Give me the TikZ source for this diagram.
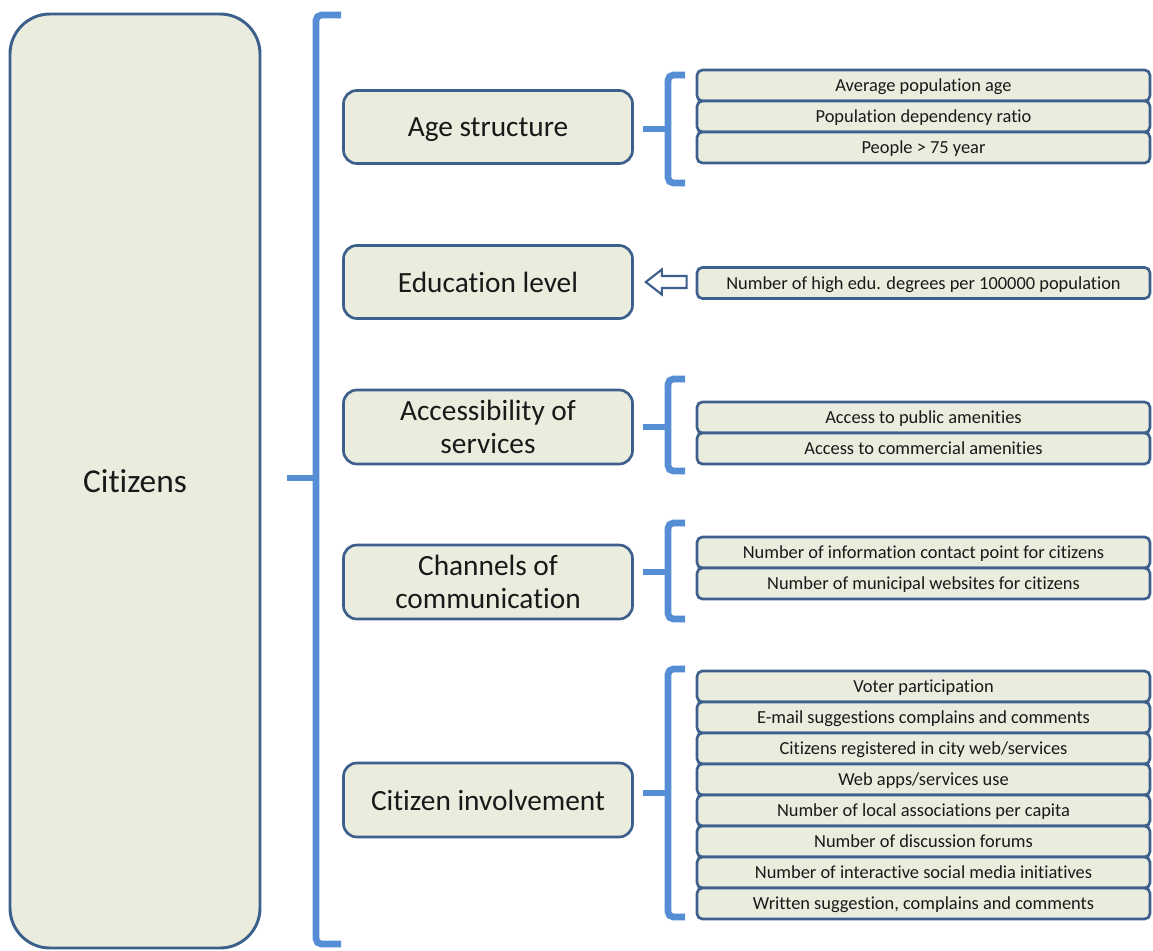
\documentclass[tikz,border=0pt]{standalone}
\usepackage{fontspec}
\setmainfont{Carlito}[Ligatures={NoCommon,NoContextual}]
\usetikzlibrary{calc}
\definecolor{boxfill}{RGB}{234,236,222}
\definecolor{boxline}{RGB}{60,95,140}
\definecolor{brkblue}{RGB}{85,142,213}
\definecolor{txt}{RGB}{25,25,25}
\tikzset{
  mainbox/.style={draw=boxline, fill=boxfill, line width=2.2pt, rounded corners=30pt,
    minimum width=250*0.75pt, minimum height=934*0.75pt, inner sep=0pt, text=txt, text depth=0pt,
    font=\fontsize{25}{29}\selectfont},
  catbox/.style={draw=boxline, fill=boxfill, line width=2pt, rounded corners=10pt,
    minimum width=289*0.75pt, minimum height=73*0.75pt, align=center, inner sep=0pt, text=txt,
    text depth=0pt, font=\fontsize{22}{24.5}\selectfont},
  itembox/.style={draw=boxline, fill=boxfill, line width=2pt, rounded corners=4pt,
    minimum width=453*0.75pt, minimum height=31*0.75pt, inner sep=0pt, text=txt,
    text depth=0pt, font=\fontsize{13.8}{15}\selectfont},
  bracket/.style={draw=brkblue, line width=5pt, rounded corners=4pt},
  blockarrow/.style={draw=boxline, fill=white, line width=1.6pt, line join=miter},
}
\begin{document}
\begin{tikzpicture}[x=0.75pt,y=-0.75pt]
\useasboundingbox (0,0) rectangle (1153,950);

% main box
\node[mainbox] (cit) at (135,481) {Citizens};

% categories
\node[catbox] (age) at (488,127) {Age structure};
\node[catbox] (edu) at (488,282) {Education level};
\node[catbox, minimum height=74*0.75pt] (acc) at (488,427) {Accessibility of\\services};
\node[catbox, minimum height=74*0.75pt] (cha) at (488,582) {Channels of\\communication};
\node[catbox, minimum height=74*0.75pt] (inv) at (488,800) {Citizen involvement};

% items
\node[itembox] (a1) at (923.5,85.5) {Average population age};
\node[itembox] (a2) at (923.5,116.5) {Population dependency ratio};
\node[itembox] (a3) at (923.5,147.5) {People > 75 year};

\node[itembox] (e1) at (923.5,283) {Number of high edu. degrees per 100000 population};

\node[itembox] (s1) at (923.5,417.5) {Access to public amenities};
\node[itembox] (s2) at (923.5,448.5) {Access to commercial amenities};

\node[itembox] (c1) at (923.5,552.5) {Number of information contact point for citizens};
\node[itembox] (c2) at (923.5,583.5) {Number of municipal websites for citizens};

\node[itembox] (i1) at (923.5,686.5) {Voter participation};
\node[itembox] (i2) at (923.5,717.5) {E-mail suggestions complains and comments};
\node[itembox] (i3) at (923.5,748.5) {Citizens registered in city web/services};
\node[itembox] (i4) at (923.5,779.5) {Web apps/services use};
\node[itembox] (i5) at (923.5,810.5) {Number of local associations per capita};
\node[itembox] (i6) at (923.5,841.5) {Number of discussion forums};
\node[itembox] (i7) at (923.5,872.5) {Number of interactive social media initiatives};
\node[itembox] (i8) at (923.5,903.5) {Written suggestion, complains and comments};

% big bracket
\coordinate (bT) at (341,15);
\coordinate (bB) at (341,944);
\coordinate (bM) at (287,478);
\draw[bracket] (bT) -- (316,15) -- (316,944) -- (bB);
\draw[bracket, rounded corners=0pt] (bM) -- (316,478);

% small brackets
\draw[bracket] (685,75) -- (668,75) -- (668,183) -- (685,183);
\draw[bracket, rounded corners=0pt] ($(age.east)+(9,2)$) -- (668,129);

\draw[bracket] (685,379) -- (668,379) -- (668,471) -- (685,471);
\draw[bracket, rounded corners=0pt] ($(acc.east)+(9,0)$) -- (668,427);

\draw[bracket] (685,523) -- (668,523) -- (668,619) -- (685,619);
\draw[bracket, rounded corners=0pt] ($(cha.east)+(9,-10)$) -- (668,572);

\draw[bracket] (685,669) -- (668,669) -- (668,917) -- (685,917);
\draw[bracket, rounded corners=0pt] ($(inv.east)+(9,-7)$) -- (668,793);

% block arrow
\coordinate (arrTip) at ($(edu.east)+(12,0)$);
\coordinate (arrTail) at ($(e1.west)+(-9,-1)$);
\draw[blockarrow] (arrTip) -- ++(16,-12.5) -- ++(0,6.5) -- ($(arrTail)+(0,-6)$)
  -- ($(arrTail)+(0,6)$) -- ($(arrTip)+(16,6)$) -- ++(0,6.5) -- cycle;
\end{tikzpicture}
\end{document}
